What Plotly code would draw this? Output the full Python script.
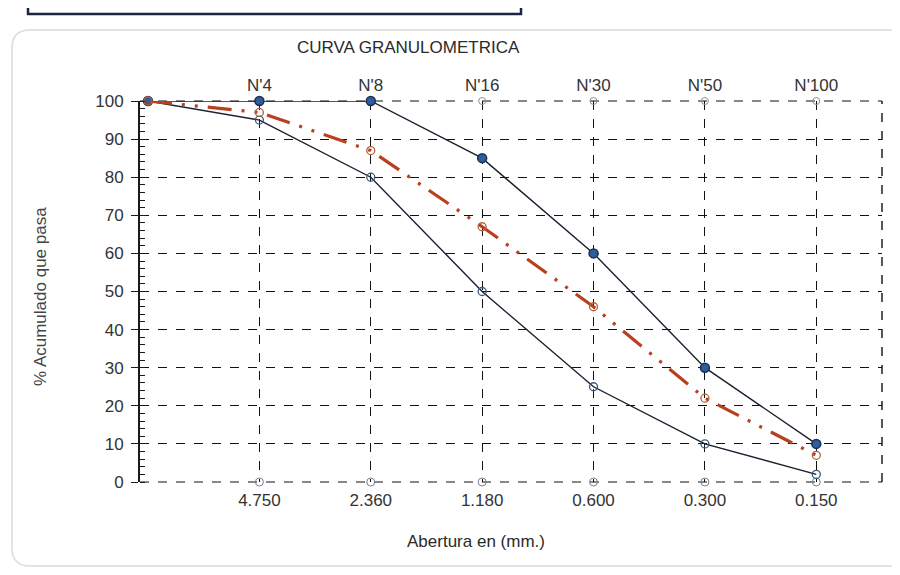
import plotly.graph_objects as go

# ---- data ----
positions = [0, 1, 2, 3, 4, 5, 6]
sieve_openings = ["", "4.750", "2.360", "1.180", "0.600", "0.300", "0.150"]
sieve_names = ["", "N'4", "N'8", "N'16", "N'30", "N'50", "N'100"]
upper_limit = [100, 100, 100, 85, 60, 30, 10]
lower_limit = [100, 95, 80, 50, 25, 10, 2]
sample = [100, 97, 87, 67, 46, 22, 7]
base_pos = [1, 2, 3, 4, 5, 6]
base_vals = [0, 0, 0, 0, 0, 0]
top_pos = [3, 4, 5, 6]
top_vals = [100, 100, 100, 100]

FONT = "Liberation Sans, Arial, sans-serif"
FS = 17
OFF = 8  # page body margin
W, H = 900 - OFF, 575 - OFF
# plot area in page pixels: x 140..882, y 101..482
L = 140 - OFF
T = 101 - OFF
R = W - (882 - OFF)
B = H - (482 - OFF)

fig = go.Figure()

# helper markers at axis bottom and top
fig.add_trace(go.Scatter(x=base_pos, y=base_vals, mode="markers",
                         marker=dict(symbol="circle-open", size=8, color="#7a7f8c", line=dict(width=1)),
                         showlegend=False, cliponaxis=False, hoverinfo="skip"))
fig.add_trace(go.Scatter(x=top_pos, y=top_vals, mode="markers",
                         marker=dict(symbol="circle-open", size=7, color="#8a8f99", line=dict(width=1)),
                         showlegend=False, cliponaxis=False, hoverinfo="skip"))

# lower limit
fig.add_trace(go.Scatter(x=positions, y=lower_limit, mode="lines+markers",
                         line=dict(color="#1a1f2e", width=1.4),
                         marker=dict(symbol="circle-open", size=8, color="#3b5a7a", line=dict(width=1.3)),
                         showlegend=False, cliponaxis=False))
# upper limit
fig.add_trace(go.Scatter(x=positions, y=upper_limit, mode="lines+markers",
                         line=dict(color="#1a1f2e", width=1.4),
                         marker=dict(symbol="circle", size=9, color="#2d5d9a",
                                     line=dict(color="#1c2f52", width=1.5)),
                         showlegend=False, cliponaxis=False))
# sample
fig.add_trace(go.Scatter(x=positions, y=sample, mode="lines+markers",
                         line=dict(color="#b8401f", width=3.2, dash="24px,10px,3px,10px,3px,10px"),
                         marker=dict(symbol="circle-open", size=8, color="#b4623c", line=dict(width=1.3)),
                         showlegend=False, cliponaxis=False))

# invisible trace for top axis
fig.add_trace(go.Scatter(x=positions, y=upper_limit, xaxis="x2", mode="markers",
                         marker=dict(opacity=0), showlegend=False, hoverinfo="skip"))

xr = [-0.072, 6.59]
fig.update_layout(
    width=W, height=H,
    margin=dict(l=L, r=R, t=T, b=B, pad=0),
    paper_bgcolor="white", plot_bgcolor="white",
    font=dict(family=FONT, size=FS, color="#2a2a2a"),
    xaxis=dict(range=xr, tickmode="array", tickvals=base_pos,
               ticktext=sieve_openings[1:], showgrid=True, gridcolor="#111",
               griddash="dash", gridwidth=1.2, zeroline=False, showline=False,
               ticks="", tickfont=dict(size=FS, color="#333"), ticklabelstandoff=6),
    xaxis2=dict(range=xr, overlaying="x", side="top", tickmode="array",
                tickvals=base_pos, ticktext=sieve_names[1:], showgrid=False,
                zeroline=False, showline=False, ticks="",
                tickfont=dict(size=FS, color="#333"), ticklabelstandoff=6),
    yaxis=dict(range=[0, 100], tickmode="array", tickvals=list(range(0, 101, 10)),
               showgrid=True, gridcolor="#111", griddash="dash", gridwidth=1.2,
               zeroline=False, showline=True, linecolor="#1a1a1a", linewidth=1.8,
               ticks="outside", ticklen=7, tickcolor="#1a1a1a", tickwidth=1.3,
               minor=dict(dtick=2, ticks="inside", ticklen=5, tickcolor="#1a1a1a",
                          tickwidth=1, showgrid=False),
               tickfont=dict(size=FS, color="#333"), ticklabelstandoff=4),
)

# right dashed border and top/bottom dashed lines
fig.add_shape(type="line", xref="paper", yref="paper", x0=1, x1=1, y0=0, y1=1,
              line=dict(color="#111", width=1.4, dash="dash"))
fig.add_shape(type="line", xref="paper", yref="paper", x0=0, x1=1, y0=0, y1=0,
              line=dict(color="#111", width=1.2, dash="dash"), layer="below")
fig.add_shape(type="line", xref="paper", yref="paper", x0=0, x1=1, y0=1, y1=1,
              line=dict(color="#111", width=1.2, dash="dash"), layer="below")

# page pixel -> paper coords
def px(x):
    return (x - OFF - L) / (W - L - R)

def py(y):
    return (H - B - (y - OFF)) / (H - T - B)

# rounded panel border
fig.add_shape(type="path", xref="paper", yref="paper",
              path=f"M {px(905)},{py(30)} L {px(30)},{py(30)} Q {px(12)},{py(30)} {px(12)},{py(48)} "
                   f"L {px(12)},{py(548)} Q {px(12)},{py(566)} {px(30)},{py(566)} L {px(905)},{py(566)}",
              line=dict(color="#d8dbe0", width=1.5))
# header box at top
fig.add_shape(type="rect", xref="paper", yref="paper",
              x0=px(28), x1=px(521), y0=py(14), y1=py(-10),
              line=dict(color="#1b2540", width=2.5))

# titles
fig.add_annotation(text="CURVA GRANULOMETRICA", xref="paper", yref="paper",
                   x=px(408), y=py(47), xanchor="center", yanchor="middle", showarrow=False,
                   font=dict(size=FS, color="#2a2a2a", family=FONT))
fig.add_annotation(text="Abertura en (mm.)", xref="paper", yref="paper",
                   x=px(476), y=py(541), xanchor="center", yanchor="middle", showarrow=False,
                   font=dict(size=FS, color="#2a2a2a", family=FONT))
fig.add_annotation(text="% Acumulado que pasa", xref="paper", yref="paper",
                   x=px(40), y=py(297), xanchor="center", yanchor="middle", showarrow=False,
                   textangle=-90, font=dict(size=FS, color="#444", family=FONT))

fig.write_html("out.html")
